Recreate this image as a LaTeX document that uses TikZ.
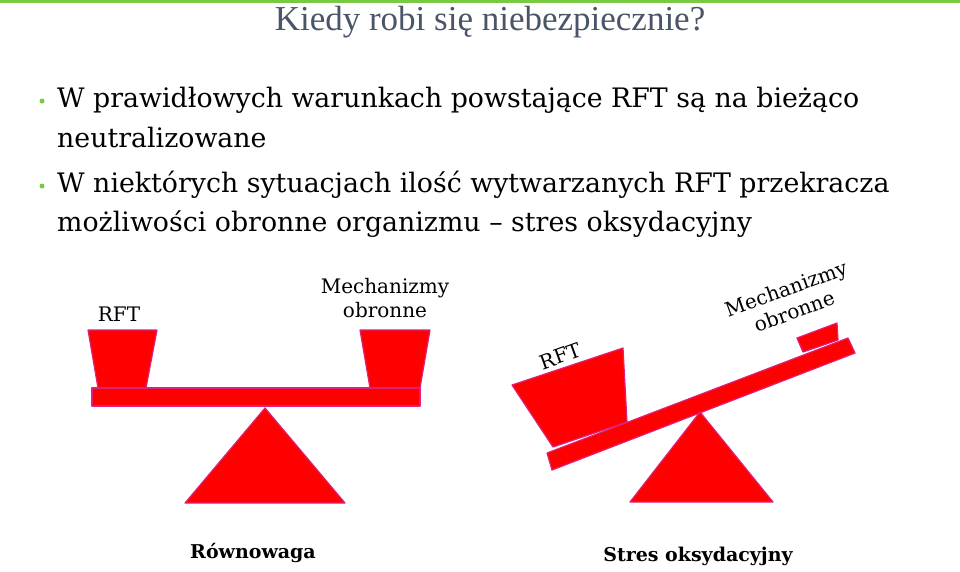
\documentclass[tikz,border=0pt]{standalone}
\usepackage{fontspec}
\setmainfont{DejaVu Serif}
\newfontfamily\titlefont{Liberation Serif}
\begin{document}
\begin{tikzpicture}[x=1pt,y=-1pt,
  part/.style={fill=red,draw={rgb,255:red,225;green,30;blue,120},line width=1.2pt,line join=round},
  lbl/.style={font=\fontsize{20}{24}\selectfont,align=center,inner sep=1pt},
  body/.style={font=\fontsize{26.8}{30}\selectfont,anchor=west,inner sep=0}]
\useasboundingbox (0,0) rectangle (960,571);
\fill[fill={rgb,255:red,122;green,201;blue,67}] (0,0) rectangle (960,3);
\node[font=\titlefont\fontsize{35}{38}\selectfont,text={rgb,255:red,74;green,85;blue,104},inner sep=0] (title) at (490,22) {Kiedy robi się niebezpiecznie?};
\tikzset{dot/.style={circle,fill={rgb,255:red,122;green,201;blue,67},inner sep=0,minimum size=5pt}}
\node[dot] (b1) at (42,101) {};
\node[dot] (b2) at (42,186) {};
\node[body] (t1) at (57,100) {W prawidłowych warunkach powstające RFT są na bieżąco};
\node[body] (t2) at (57,138) {neutralizowane};
\node[body] (t3) at (57,185) {W niektórych sytuacjach ilość wytwarzanych RFT przekracza};
\node[body] (t4) at (57,224) {możliwości obronne organizmu -- stres oksydacyjny};
% left scale
\draw[part] (88,330)--(157,330)--(146,388)--(98,388)--cycle;
\draw[part] (360,330)--(430,330)--(420,388)--(370,388)--cycle;
\draw[part] (92,388) rectangle (420,406);
\draw[part] (265,408)--(345,503)--(185,503)--cycle;
\node[lbl] (rft1) at (119,314) {RFT};
\node[lbl] (mo1) at (385,298) {Mechanizmy\\obronne};
% right scale
\draw[part] (512,385)--(623,348)--(627,422)--(553,447)--cycle;
\draw[part] (797,338)--(837,323)--(838,340)--(803,352)--cycle;
\draw[part] (547,453)--(848,338)--(855,353)--(552,470)--cycle;
\draw[part] (700,412)--(773,502)--(630,502)--cycle;
\node[lbl,rotate=20] (rft2) at (560,356) {RFT};
\node[lbl,rotate=20] (mo2) at (790,300) {Mechanizmy\\obronne};
\node[font=\bfseries\fontsize{19}{22}\selectfont] (l1) at (253,553) {Równowaga};
\node[font=\bfseries\fontsize{19}{22}\selectfont] (l2) at (698,556) {Stres oksydacyjny};
\end{tikzpicture}
\end{document}
